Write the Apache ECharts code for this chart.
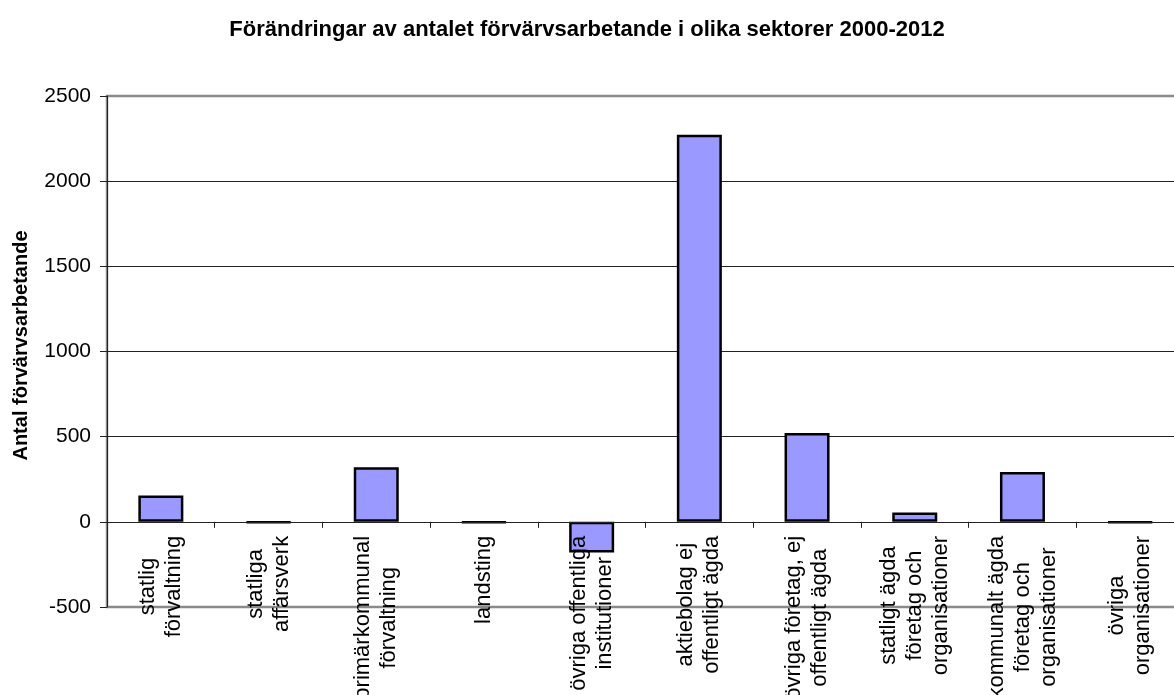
<!DOCTYPE html>
<html>
<head>
<meta charset="utf-8">
<script src="https://cdn.jsdelivr.net/npm/echarts@6/dist/echarts.min.js"></script>
<style>
  html, body { margin: 0; padding: 0; background: #fff; }
  #chart { width: 1174px; height: 695px; }
</style>
</head>
<body>
<div id="chart"></div>
<script>
// Chart Data
const categories = [
  "statlig\nförvaltning",
  "statliga\naffärsverk",
  "primärkommunal\nförvaltning",
  "landsting",
  "övriga offentliga\ninstitutioner",
  "aktiebolag ej\noffentligt ägda",
  "övriga företag, ej\noffentligt ägda",
  "statligt ägda\nföretag och\norganisationer",
  "kommunalt ägda\nföretag och\norganisationer",
  "övriga\norganisationer",
];
const values = [155, -4, 320, -4, -180, 2273, 522, 55, 292, -4];
const titleText = "Förändringar av antalet förvärvsarbetande i olika sektorer 2000-2012";
const yAxisTitle = "Antal förvärvsarbetande";

// Chart Functionalities
const chartElem = document.getElementById("chart");
const chart = echarts.init(chartElem, null, { renderer: "canvas" });

const font = "'Liberation Sans', Arial, sans-serif";
const gridBottom = 88;

const option = {
  animation: false,
  backgroundColor: "#fff",
  title: {
    text: titleText,
    left: "center",
    top: 14,
    textStyle: {
      fontFamily: font,
      fontWeight: "bold",
      fontSize: 22,
      color: "#000",
    },
  },
  grid: {
    left: 107,
    top: 96,
    right: -10,
    bottom: gridBottom,
    containLabel: false,
    outerBoundsMode: "none",
    show: true,
    borderColor: "#8a8a8a",
    borderWidth: 2.5,
  },
  xAxis: {
    type: "category",
    data: categories,
    z: 5,
    offset: 0,
    axisLine: { onZero: false, lineStyle: { color: "#222", width: 1 } },
    axisTick: { show: true, length: 6, lineStyle: { color: "#222" } },
    axisLabel: {
      rotate: 90,
      margin: 14,
      interval: 0,
      color: "#000",
      fontFamily: font,
      fontSize: 22,
      lineHeight: 26,
      formatter: function (v) {
        return v.split("\n").map(function (s) { return "{c|" + s + "}"; }).join("\n");
      },
      rich: {
        c: { align: "center", fontFamily: font, fontSize: 22, lineHeight: 26, color: "#000" },
      },
    },
  },
  yAxis: {
    type: "value",
    min: -500,
    max: 2500,
    interval: 500,
    name: yAxisTitle,
    nameLocation: "middle",
    nameGap: 76,
    nameTextStyle: {
      fontFamily: font,
      fontWeight: "bold",
      fontSize: 20,
      color: "#000",
      padding: [0, 0, 0, 12],
    },
    axisLine: { show: true, lineStyle: { color: "#222", width: 1 } },
    axisTick: { show: true, length: 7, lineStyle: { color: "#222" } },
    axisLabel: {
      margin: 16,
      color: "#000",
      fontFamily: font,
      fontSize: 21,
      formatter: function (v) { return String(v); },
    },
    splitLine: {
      show: true,
      showMinLine: false,
      showMaxLine: false,
      lineStyle: { color: "#222", width: 1 },
    },
  },
  series: [
    {
      type: "bar",
      data: values,
      barWidth: 45,
      itemStyle: {
        color: "#9999ff",
        borderColor: "#000",
        borderWidth: 2.5,
      },
    },
  ],
};

chart.setOption(option);

// move the category axis (line, ticks, labels) up to the zero line
const zeroY = chart.convertToPixel({ yAxisIndex: 0 }, 0);
const plotBottom = chartElem.clientHeight - gridBottom;
chart.setOption({ xAxis: { offset: -(plotBottom - zeroY) } });
</script>
</body>
</html>
